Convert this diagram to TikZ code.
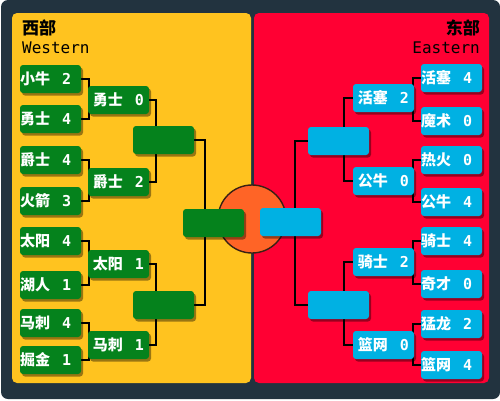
\documentclass[tikz,border=0pt]{standalone}
\usepackage{fontspec}
\usepackage{xcolor}
\usepackage{tikz}
\usetikzlibrary{shadows}
\newfontfamily\cjk{Noto Sans CJK SC}
\newfontfamily\monofnt{DejaVu Sans Mono}
\definecolor{kdark}{HTML}{22333F}
\definecolor{kyellow}{HTML}{FFC31F}
\definecolor{kred}{HTML}{FF0033}
\definecolor{kgreen}{HTML}{05821C}
\definecolor{kblue}{HTML}{00B1E3}
\definecolor{korange}{HTML}{FF6426}
\definecolor{kring}{HTML}{3A2014}
\newcommand{\teamline}[2]{{\cjk\bfseries #1}\hspace{12pt}{\monofnt\bfseries #2}}
\pgfdeclarelayer{back}
\pgfdeclarelayer{mid}
\pgfsetlayers{back,mid,main}

\begin{document}
\begin{tikzpicture}[x=1pt, y=-1pt,
  box/.style={minimum width=61pt, minimum height=28pt, inner sep=0pt, rounded corners=3pt,
    text=white, font=\fontsize{15pt}{15pt}\selectfont,
    drop shadow={shadow xshift=2pt, shadow yshift=-2.5pt, opacity=.4, fill=black}},
  westbox/.style={box, fill=kgreen},
  eastbox/.style={box, fill=kblue},
  firstrnd/.style={text width=61pt, align=left},
  bracket/.style={draw=black, line width=1.6pt},
  heading/.style={font=\fontsize{17pt}{17pt}\selectfont\cjk\bfseries, text=black, inner sep=0pt},
  subheading/.style={font=\fontsize{16pt}{16pt}\selectfont\monofnt, text=black, inner sep=0pt}]
\useasboundingbox (0,0) rectangle (500,400);
\begin{pgfonlayer}{back}
\fill[white] (0,0) rectangle (500,400);
\fill[kdark, rounded corners=7pt] (1,0) rectangle (500,399);
\fill[kyellow, rounded corners=5pt] (12,13) rectangle (251,383);
\fill[kred, rounded corners=5pt] (254,13) rectangle (489,383);
\draw[fill=korange, draw=kring, line width=1.4pt] (252,219) circle (34);
\end{pgfonlayer}

% headings
\node[heading, anchor=west] (wtitle) at (22,28) {西部};
\node[subheading, anchor=base west] (wsub) at (22,53) {Western};
\node[heading, anchor=east] (etitle) at (480,28) {东部};
\node[subheading, anchor=base east] (esub) at (480,53) {Eastern};

% western conference
\node[westbox, firstrnd] (w1) at (50.5,79) {\teamline{小牛}{2}};
\node[westbox, firstrnd] (w2) at (50.5,119) {\teamline{勇士}{4}};
\node[westbox, firstrnd] (w3) at (50.5,160) {\teamline{爵士}{4}};
\node[westbox, firstrnd] (w4) at (50.5,201) {\teamline{火箭}{3}};
\node[westbox, firstrnd] (w5) at (50.5,241) {\teamline{太阳}{4}};
\node[westbox, firstrnd] (w6) at (50.5,285) {\teamline{湖人}{1}};
\node[westbox, firstrnd] (w7) at (50.5,323) {\teamline{马刺}{4}};
\node[westbox, firstrnd] (w8) at (50.5,360) {\teamline{掘金}{1}};
\node[westbox] (w9) at (118.5,100) {\teamline{勇士}{0}};
\node[westbox] (w10) at (118.5,182) {\teamline{爵士}{2}};
\node[westbox] (w11) at (118.5,264) {\teamline{太阳}{1}};
\node[westbox] (w12) at (118.5,345) {\teamline{马刺}{1}};
\node[westbox] (w13) at (163.5,140) {};
\node[westbox] (w14) at (163.5,305) {};
\node[westbox] (w15) at (213.5,223) {};

% eastern conference
\node[eastbox, firstrnd] (e1) at (451.5,78) {\teamline{活塞}{4}};
\node[eastbox, firstrnd] (e2) at (451.5,121) {\teamline{魔术}{0}};
\node[eastbox, firstrnd] (e3) at (451.5,160) {\teamline{热火}{0}};
\node[eastbox, firstrnd] (e4) at (451.5,202) {\teamline{公牛}{4}};
\node[eastbox, firstrnd] (e5) at (451.5,241) {\teamline{骑士}{4}};
\node[eastbox, firstrnd] (e6) at (451.5,284) {\teamline{奇才}{0}};
\node[eastbox, firstrnd] (e7) at (451.5,324) {\teamline{猛龙}{2}};
\node[eastbox, firstrnd] (e8) at (451.5,365) {\teamline{篮网}{4}};
\node[eastbox] (e9) at (383.5,98) {\teamline{活塞}{2}};
\node[eastbox] (e10) at (383.5,181) {\teamline{公牛}{0}};
\node[eastbox] (e11) at (383.5,262) {\teamline{骑士}{2}};
\node[eastbox] (e12) at (383.5,345) {\teamline{篮网}{0}};
\node[eastbox] (e13) at (338.5,141) {};
\node[eastbox] (e14) at (338.5,305) {};
\node[eastbox] (e15) at (290.5,222) {};

\begin{pgfonlayer}{mid}
\draw[bracket] (w1.east) -- ++(8,0) |- (w2.east);
\draw[bracket] (w3.east) -- ++(8,0) |- (w4.east);
\draw[bracket] (w5.east) -- ++(8,0) |- (w6.east);
\draw[bracket] (w7.east) -- ++(8,0) |- (w8.east);
\draw[bracket] (w9.east) -- ++(7,0) |- (w10.east);
\draw[bracket] (w11.east) -- ++(7,0) |- (w12.east);
\draw[bracket] (w13.east) -- ++(11,0) |- (w14.east);
\draw[bracket] (e1.west) -- ++(-8,0) |- (e2.west);
\draw[bracket] (e3.west) -- ++(-8,0) |- (e4.west);
\draw[bracket] (e5.west) -- ++(-8,0) |- (e6.west);
\draw[bracket] (e7.west) -- ++(-8,0) |- (e8.west);
\draw[bracket] (e9.west) -- ++(-9,0) |- (e10.west);
\draw[bracket] (e11.west) -- ++(-9,0) |- (e12.west);
\draw[bracket] (e13.west) -- ++(-13,0) |- (e14.west);
\end{pgfonlayer}
\end{tikzpicture}
\end{document}
